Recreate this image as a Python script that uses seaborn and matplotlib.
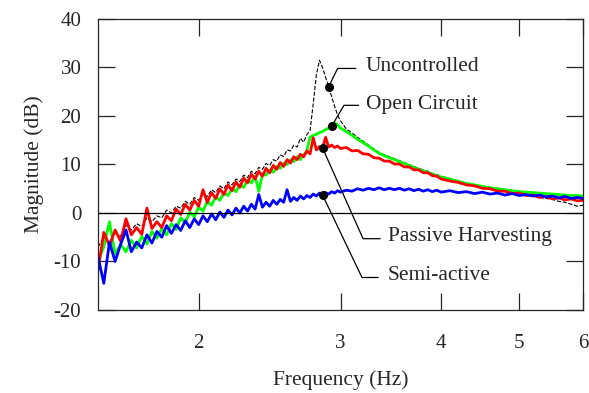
import pandas as pd
import seaborn as sns
import matplotlib.pyplot as plt
from matplotlib.ticker import NullLocator

# frequency grid (Hz)
freq = [1.500, 1.525, 1.550, 1.575, 1.600, 1.625, 1.650, 1.675, 1.700, 1.725,
        1.750, 1.775, 1.800, 1.825, 1.850, 1.875, 1.900, 1.925, 1.950, 1.975,
        2.000, 2.025, 2.050, 2.075, 2.100, 2.125, 2.150, 2.175, 2.200, 2.225,
        2.250, 2.275, 2.300, 2.325, 2.350, 2.375, 2.400, 2.425, 2.450, 2.475,
        2.500, 2.525, 2.550, 2.575, 2.600, 2.625, 2.650, 2.675, 2.700, 2.725,
        2.750, 2.775, 2.800, 2.825, 2.850, 2.875, 2.900, 2.925, 2.950, 2.975,
        3.000, 3.05, 3.10, 3.15, 3.20, 3.25, 3.30, 3.35, 3.40, 3.45,
        3.50, 3.55, 3.60, 3.65, 3.70, 3.75, 3.80, 3.85, 3.90, 3.95,
        4.00, 4.1, 4.2, 4.3, 4.4, 4.5, 4.6, 4.7, 4.8, 4.9,
        5.0, 5.1, 5.2, 5.3, 5.4, 5.5, 5.6, 5.7, 5.8, 5.9, 6.0]

# magnitudes (dB)
uncontrolled = [-7.0, -5.0, -6.0, -4.0, -4.8, -2.5, -3.5, -2.2, -2.8, -1.0,
                -1.8, -0.6, -1.0, 0.6, 0.0, 1.4, 1.0, 2.4, 1.8, 3.2,
                2.6, 4.0, 3.4, 4.8, 4.2, 5.6, 5.0, 6.4, 5.8, 7.0,
                6.5, 7.8, 7.3, 8.6, 8.1, 9.4, 9.0, 10.2, 9.8, 11.0,
                10.7, 12.0, 11.6, 13.0, 12.8, 14.0, 13.6, 15.4, 14.6, 16.2,
                17.0, 22.5, 28.5, 31.5, 30.0, 28.0, 26.0, 24.0, 22.0, 20.2,
                19.0, 17.3, 16.5, 15.6, 14.8, 14.0, 13.2, 12.5, 12.0, 11.6,
                11.2, 10.8, 10.4, 10.0, 9.6, 9.2, 8.9, 8.6, 8.2, 7.9,
                7.6, 7.1, 6.6, 6.2, 5.8, 5.5, 5.1, 4.8, 4.5, 4.2,
                4.0, 3.7, 3.5, 3.2, 3.0, 2.8, 2.4, 2.2, 1.8, 1.4, 1.6]

open_circuit = [-10.0, -7.0, -1.8, -8.5, -6.5, -8.0, -5.6, -7.2, -4.8, -6.4,
                -3.8, -5.2, -3.2, -4.5, -2.2, -3.4, -1.0, -2.0, 0.2, -0.8,
                1.2, 0.4, 2.4, 1.6, 3.4, 2.6, 4.2, 3.6, 5.0, 4.4,
                5.8, 5.3, 6.8, 6.2, 7.6, 4.5, 8.0, 7.8, 8.9, 8.4,
                9.6, 9.2, 10.3, 10.0, 11.0, 10.6, 11.6, 11.0, 12.0, 12.8,
                15.6, 16.0, 16.2, 16.6, 16.8, 17.2, 17.5, 17.9, 18.6, 18.2,
                17.5, 16.8, 16.0, 15.2, 14.5, 13.8, 13.0, 12.3, 11.8, 11.4,
                11.0, 10.6, 10.2, 9.8, 9.4, 9.0, 8.7, 8.4, 8.0, 7.7,
                7.4, 7.0, 6.5, 6.1, 5.8, 5.5, 5.2, 5.0, 4.8, 4.6,
                4.4, 4.3, 4.2, 4.1, 4.0, 3.9, 3.8, 3.7, 3.6, 3.6, 3.5]

passive = [-11.8, -4.0, -6.8, -3.5, -5.8, -1.2, -4.5, -3.0, -4.4, 1.0,
           -3.2, -1.8, -3.0, -0.6, -1.6, 0.8, -0.3, 1.8, 0.6, 2.6,
           1.4, 4.8, 2.2, 4.2, 3.0, 5.0, 3.8, 5.8, 4.6, 6.4,
           5.3, 7.2, 6.2, 8.0, 7.0, 8.6, 7.6, 9.2, 8.3, 9.8,
           9.0, 10.4, 9.6, 11.0, 10.3, 11.6, 11.0, 12.1, 11.6, 12.8,
           12.2, 15.5, 13.0, 13.7, 13.4, 15.6, 13.6, 14.0, 13.5, 13.8,
           13.3, 13.5, 12.8, 12.9, 12.2, 12.1, 11.4, 11.3, 10.7, 10.7,
           10.1, 10.1, 9.5, 9.5, 8.9, 8.9, 8.3, 8.3, 7.7, 7.6,
           7.0, 6.6, 6.3, 5.8, 5.6, 5.1, 5.0, 4.5, 4.5, 4.0,
           4.1, 3.6, 3.7, 3.2, 3.4, 2.9, 3.1, 2.7, 2.9, 2.5, 2.6]

semi_active = [-9.0, -14.5, -6.0, -10.0, -6.5, -3.5, -8.0, -6.0, -7.2, -4.5,
               -6.2, -3.8, -5.0, -2.6, -4.2, -2.4, -3.6, -1.6, -3.0, -1.2,
               -2.4, -0.6, -1.8, -0.2, -1.4, 0.2, -0.9, 0.6, -0.4, 1.0,
               0.0, 1.4, 0.4, 1.8, 0.8, 3.8, 1.2, 2.2, 1.4, 2.6,
               1.8, 2.8, 2.2, 4.8, 2.4, 3.2, 2.6, 3.5, 2.9, 3.6,
               3.2, 3.9, 3.5, 4.1, 3.7, 4.2, 3.9, 4.4, 4.1, 4.6,
               4.3, 4.7, 4.5, 5.0, 4.7, 5.1, 4.8, 5.2, 4.8, 5.1,
               4.8, 5.1, 4.7, 5.0, 4.6, 4.9, 4.5, 4.8, 4.4, 4.7,
               4.3, 4.6, 4.2, 4.4, 4.0, 4.3, 3.9, 4.1, 3.7, 4.0,
               3.6, 3.8, 3.5, 3.7, 3.3, 3.5, 3.1, 3.4, 3.0, 3.2, 3.0]

df = pd.DataFrame({"freq": freq, "Uncontrolled": uncontrolled,
                   "Open Circuit": open_circuit, "Passive Harvesting": passive,
                   "Semi-active": semi_active})

sns.set_style("ticks")
plt.rcParams['font.family'] = ['Liberation Serif', 'DejaVu Serif']
plt.rcParams['font.size'] = 15
plt.rcParams['axes.unicode_minus'] = False

fig = plt.figure(figsize=(5.89, 3.93), dpi=100)
ax = fig.add_axes([0.1664, 0.2112, 0.8234, 0.7405])

sns.lineplot(data=df, x="freq", y="Uncontrolled", color="black", lw=0.8,
             linestyle="--", estimator=None, ax=ax)
sns.lineplot(data=df, x="freq", y="Open Circuit", color="#00ff00", lw=2.0,
             estimator=None, ax=ax)
sns.lineplot(data=df, x="freq", y="Passive Harvesting", color="#ff0000", lw=2.0,
             estimator=None, ax=ax)
sns.lineplot(data=df, x="freq", y="Semi-active", color="#0000ff", lw=2.0,
             estimator=None, ax=ax)
ax.axhline(0, color="black", lw=0.9)

# callouts: (series, dot freq, elbow, end of leader, text position)
callouts = [
    ("Uncontrolled", 2.9, (2.975, 29.8), 3.135, (3.227, 30.2)),
    ("Open Circuit", 2.925, (3.03, 22.2), 3.16, (3.227, 22.4)),
    ("Passive Harvesting", 2.85, (3.2, -5.3), 3.36, (3.44, -4.9)),
    ("Semi-active", 2.85, (3.19, -13.3), 3.34, (3.43, -12.9)),
]
for name, fdot, elbow, xend, tpos in callouts:
    ydot = df.loc[df["freq"] == fdot, name].iloc[0]
    ax.plot([fdot, elbow[0], xend], [ydot, elbow[1], elbow[1]],
            color="black", lw=0.9)
    ax.plot([fdot], [ydot], "o", color="black", ms=5.5)
    ax.text(tpos[0], tpos[1], name, fontsize=15.5, va="center", ha="left")

ax.set_xscale("log")
ax.set_xlim(1.5, 6.0)
ax.set_ylim(-20, 40)
ax.set_xticks([2, 3, 4, 5, 6])
ax.set_xticklabels(["2", "3", "4", "5", "6"])
ax.xaxis.set_minor_locator(NullLocator())
ax.set_yticks([-20, -10, 0, 10, 20, 30, 40])
ax.tick_params(axis="both", direction="in", length=12, width=0.9,
               top=True, right=True, labelsize=15)
ax.tick_params(axis="x", pad=17)
ax.tick_params(axis="y", pad=12)
for s in ax.spines.values():
    s.set_linewidth(0.9)

ax.set_xlabel("Frequency (Hz)", fontsize=15.5, labelpad=13)
ax.set_ylabel("Magnitude (dB)", fontsize=15.5, labelpad=7)

fig.savefig("out.png", dpi=100)
